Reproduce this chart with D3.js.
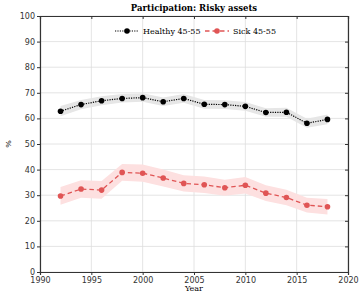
<!DOCTYPE html>
<html>
<head>
<meta charset="utf-8">
<script src="https://cdn.jsdelivr.net/npm/d3@7"></script>
<style>
  body { margin: 0; background: #fff; }
  .tick text { font-family: "DejaVu Sans", sans-serif; font-size: 8px; fill: #333; }
</style>
</head>
<body>
<script>
// chart data
var years = [1992, 1994, 1996, 1998, 2000, 2002, 2004, 2006, 2008, 2010, 2012, 2014, 2016, 2018];
var healthy = [62.8, 65.4, 66.9, 67.8, 68.1, 66.5, 67.8, 65.5, 65.4, 64.7, 62.3, 62.4, 58.1, 59.6];
var healthyLo = [60.8, 63.6, 65.1, 66.2, 66.5, 64.8, 66.1, 63.8, 63.7, 63.0, 60.6, 60.6, 56.3, 57.7];
var healthyHi = [64.8, 67.2, 68.7, 69.5, 69.8, 68.2, 69.5, 67.2, 67.1, 66.4, 64.0, 64.2, 59.9, 61.5];
var sick = [29.7, 32.4, 32.0, 38.9, 38.6, 36.7, 34.6, 34.1, 32.9, 33.9, 30.8, 29.1, 26.1, 25.5];
var sickLo = [26.3, 29.0, 28.6, 35.6, 35.3, 33.4, 31.4, 30.9, 29.8, 30.7, 27.7, 26.1, 23.2, 22.5];
var sickHi = [33.2, 35.8, 35.5, 42.2, 42.0, 40.0, 37.8, 37.3, 36.0, 37.1, 33.9, 32.1, 29.0, 28.5];
var xTicks = [1990, 1995, 2000, 2005, 2010, 2015, 2020];
var yTicks = [0, 10, 20, 30, 40, 50, 60, 70, 80, 90, 100];
var seriesNames = ["Healthy 45-55", "Sick 45-55"];

var w = 360, h = 293;
var pLeft = 40, pRight = 348, pTop = 16, pBottom = 272;

var svg = d3.select("body").append("svg")
    .attr("width", w)
    .attr("height", h);

var x = d3.scaleLinear().domain([1990, 2020]).range([pLeft, pRight]);
var y = d3.scaleLinear().domain([0, 100]).range([pBottom, pTop]);

// grid
svg.append("g").selectAll("line")
    .data(xTicks).enter().append("line")
    .attr("x1", d => x(d)).attr("x2", d => x(d))
    .attr("y1", pTop).attr("y2", pBottom)
    .style("stroke", "#ddd").style("stroke-width", 0.8);
svg.append("g").selectAll("line")
    .data(yTicks).enter().append("line")
    .attr("x1", pLeft).attr("x2", pRight)
    .attr("y1", d => y(d)).attr("y2", d => y(d))
    .style("stroke", "#ddd").style("stroke-width", 0.8);

// confidence bands
function band(lo, hi) {
    return d3.area()
        .x((d, i) => x(years[i]))
        .y0((d, i) => y(lo[i]))
        .y1((d, i) => y(hi[i]))(years);
}
svg.append("path").attr("d", band(healthyLo, healthyHi)).style("fill", "#e6e6e6");
svg.append("path").attr("d", band(sickLo, sickHi)).style("fill", "#fde0e0");

var line = d3.line().x((d, i) => x(years[i])).y(d => y(d));

svg.append("path").datum(healthy).attr("d", line)
    .style("fill", "none").style("stroke", "#000")
    .style("stroke-width", 1.2).style("stroke-dasharray", "1.2,1.2");
svg.append("path").datum(sick).attr("d", line)
    .style("fill", "none").style("stroke", "#e05555")
    .style("stroke-width", 1.3).style("stroke-dasharray", "4.5,3");

svg.append("g").selectAll("circle")
    .data(healthy).enter().append("circle")
    .attr("cx", (d, i) => x(years[i])).attr("cy", d => y(d))
    .attr("r", 2.8).style("fill", "#000");
svg.append("g").selectAll("circle")
    .data(sick).enter().append("circle")
    .attr("cx", (d, i) => x(years[i])).attr("cy", d => y(d))
    .attr("r", 2.8).style("fill", "#e05555");

// axes
svg.append("g").attr("transform", "translate(0," + pBottom + ")")
    .call(d3.axisBottom(x).tickValues(xTicks).tickFormat(d3.format("d")).tickSize(3).tickPadding(2));
svg.append("g").attr("transform", "translate(" + pLeft + ",0)")
    .call(d3.axisLeft(y).tickValues(yTicks).tickSize(3).tickPadding(2));
svg.append("g").attr("transform", "translate(0," + pTop + ")")
    .call(d3.axisBottom(x).tickValues(xTicks).tickFormat("").tickSize(3));
svg.append("g").attr("transform", "translate(" + pRight + ",0)")
    .call(d3.axisLeft(y).tickValues(yTicks).tickFormat("").tickSize(3));
svg.selectAll(".domain").style("stroke", "#333").style("stroke-width", 1.2);
svg.selectAll(".tick line").style("stroke", "#333");

// title and labels
svg.append("text")
    .attr("x", (pLeft + pRight) / 2).attr("y", 11)
    .attr("text-anchor", "middle")
    .style("font-family", "DejaVu Serif, serif").style("font-weight", "bold").style("font-size", "8.5px")
    .text("Participation: Risky assets");
svg.append("text")
    .attr("x", (pLeft + pRight) / 2).attr("y", 291)
    .attr("text-anchor", "middle")
    .style("font-family", "DejaVu Serif, serif").style("font-size", "8px")
    .text("Year");
svg.append("text")
    .attr("transform", "translate(11," + ((pTop + pBottom) / 2) + ") rotate(-90)")
    .attr("text-anchor", "middle")
    .style("font-family", "DejaVu Serif, serif").style("font-size", "8px")
    .text("%");

// legend
var leg = svg.append("g").attr("transform", "translate(115,31)");
leg.append("line").attr("x1", 0).attr("x2", 24).attr("y1", 0).attr("y2", 0)
    .style("stroke", "#000").style("stroke-width", 1.2).style("stroke-dasharray", "1.2,1.2");
leg.append("circle").attr("cx", 12).attr("cy", 0).attr("r", 2.8).style("fill", "#000");
leg.append("text").attr("x", 28).attr("y", 3)
    .style("font-family", "DejaVu Serif, serif").style("font-size", "8px")
    .text(seriesNames[0]);
var leg2 = svg.append("g").attr("transform", "translate(205,31)");
leg2.append("line").attr("x1", 0).attr("x2", 24).attr("y1", 0).attr("y2", 0)
    .style("stroke", "#e05555").style("stroke-width", 1.3).style("stroke-dasharray", "4.5,3");
leg2.append("circle").attr("cx", 12).attr("cy", 0).attr("r", 2.8).style("fill", "#e05555");
leg2.append("text").attr("x", 28).attr("y", 3)
    .style("font-family", "DejaVu Serif, serif").style("font-size", "8px")
    .text(seriesNames[1]);
</script>
</body>
</html>
